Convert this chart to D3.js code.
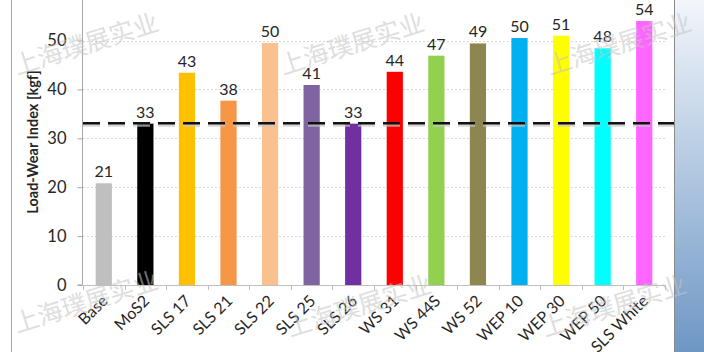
<!DOCTYPE html>
<html><head><meta charset="utf-8">
<script src="https://cdn.jsdelivr.net/npm/d3@7"></script>
<style>body{margin:0;background:#fff;} svg{display:block;}</style>
</head><body>
<svg id="c" width="704" height="352"></svg>
<script>
const categories = ["Base","MoS2","SLS 17","SLS 21","SLS 22","SLS 25","SLS 26","WS 31","WS 44S","WS 52","WEP 10","WEP 30","WEP 50","SLS White"];
const values = [20.8,33.0,43.4,37.7,49.5,40.9,33.0,43.6,46.9,49.4,50.5,51.0,48.4,54.0];
const labels = ["21","33","43","38","50","41","33","44","47","49","50","51","48","54"];
const colors = ["#bfbfbf","#000000","#ffc000","#f79646","#fac090","#8064a2","#7030a0","#ff0000","#92d050","#8e8650","#00b0f0","#ffff00","#00ffff","#ff66ff"];
const yTicks = [0,10,20,30,40,50];
const refValue = 33.1;
const yTitle = "Load-Wear Index [kgf]";
const watermark = "上海璞展实业";

const svg = d3.select("#c");
const W=704,H=352;
const m={l:83,r:665,t:0,b:285};
const x=d3.scaleBand().domain(categories).range([m.l,m.r]).paddingInner(0.61).paddingOuter(0.305);
const y=d3.scaleLinear().domain([0,50]).range([285,40.5]);
const font="Lato, 'Open Sans', sans-serif";

// right gradient panel
const defs=svg.append("defs");
const g=defs.append("linearGradient").attr("id","rg").attr("x1",0).attr("y1",0).attr("x2",0).attr("y2",1);
g.append("stop").attr("offset","0%").attr("stop-color","#f3f6fb");
g.append("stop").attr("offset","100%").attr("stop-color","#6e97c5");
svg.append("rect").attr("x",674).attr("y",0).attr("width",30).attr("height",H).attr("fill","url(#rg)");
svg.append("line").attr("x1",674.5).attr("x2",674.5).attr("y1",0).attr("y2",H).attr("stroke","#8a8a8a").attr("stroke-width",1);
// left border
svg.append("line").attr("x1",11.5).attr("x2",11.5).attr("y1",0).attr("y2",H).attr("stroke","#a6a6a6").attr("stroke-width",1);

// gridlines
svg.append("g").selectAll("line").data(yTicks.filter(d=>d>0)).join("line")
 .attr("x1",m.l).attr("x2",m.r).attr("y1",d=>Math.round(y(d))+0.5).attr("y2",d=>Math.round(y(d))+0.5)
 .attr("stroke","#d9d9d9").attr("stroke-dasharray","2,2").attr("stroke-width",1);

// bars
svg.append("g").selectAll("rect").data(categories).join("rect")
 .attr("x",d=>x(d)).attr("width",x.bandwidth())
 .attr("y",(d,i)=>y(values[i])).attr("height",(d,i)=>y(0)-y(values[i]))
 .attr("fill",(d,i)=>colors[i]);

// value labels
svg.append("g").selectAll("text").data(categories).join("text")
 .attr("x",d=>x(d)+x.bandwidth()/2).attr("y",(d,i)=>y(values[i])-6)
 .attr("text-anchor","middle").attr("font-family",font).attr("font-size",16)
 .attr("fill","#262626").text((d,i)=>labels[i]);

// y axis
const ya=svg.append("g").attr("transform",`translate(${m.l-0.5},0)`)
 .call(d3.axisLeft(y).tickValues(yTicks).tickSize(5).tickPadding(11));
ya.select(".domain").attr("d",`M-5,${y(0)}H0V0`).attr("stroke","#a6a6a6");
ya.selectAll(".tick line").attr("stroke","#a6a6a6");
ya.selectAll("text").attr("font-family",font).attr("font-size",16.5).attr("fill","#262626");

// x axis
const xa=svg.append("g").attr("transform",`translate(0,${y(0)+0.5})`)
 .call(d3.axisBottom(x).tickSize(0).tickFormat(""));
xa.select(".domain").attr("d",`M${m.l},0H${m.r}`).attr("stroke","#bfbfbf");
const step=x.step();
svg.append("g").selectAll("line").data(d3.range(categories.length+1)).join("line")
 .attr("x1",i=>Math.round(m.l+i*step)+0.5).attr("x2",i=>Math.round(m.l+i*step)+0.5)
 .attr("y1",y(0)).attr("y2",y(0)+5).attr("stroke","#bfbfbf");
svg.append("g").selectAll("text").data(categories).join("text")
 .attr("transform",d=>`translate(${x(d)+x.bandwidth()/2+5},${y(0)+17}) rotate(-45)`)
 .attr("text-anchor","end").attr("font-family",font).attr("font-size",16)
 .attr("fill","#262626").text(d=>d);

// y title
svg.append("text").attr("transform","translate(38,142) rotate(-90)").attr("text-anchor","middle")
 .attr("font-family",font).attr("font-weight","bold").attr("font-size",14.5)
 .attr("fill","#262626").text(yTitle);

// reference dashed line
svg.append("line").attr("x1",m.l).attr("x2",674).attr("y1",y(refValue)+2).attr("y2",y(refValue)+2)
 .attr("stroke","#c8c8c8").attr("stroke-width",3).attr("stroke-dasharray","17,8").attr("opacity",0.7);
svg.append("line").attr("x1",m.l).attr("x2",674).attr("y1",y(refValue)).attr("y2",y(refValue))
 .attr("stroke","#111").attr("stroke-width",2.5).attr("stroke-dasharray","17,8");

// watermarks
const wm=[[17,75],[283,75],[550,75],[17,333],[290,337],[545,337]];
svg.append("g").selectAll("text").data(wm).join("text")
 .attr("transform",d=>`translate(${d[0]},${d[1]}) rotate(-17.5)`)
 .attr("font-family","'Noto Sans CJK SC', sans-serif").attr("font-size",25)
 .attr("fill","#c4c4c4").attr("opacity",0.55).text(watermark);
</script>
</body></html>
